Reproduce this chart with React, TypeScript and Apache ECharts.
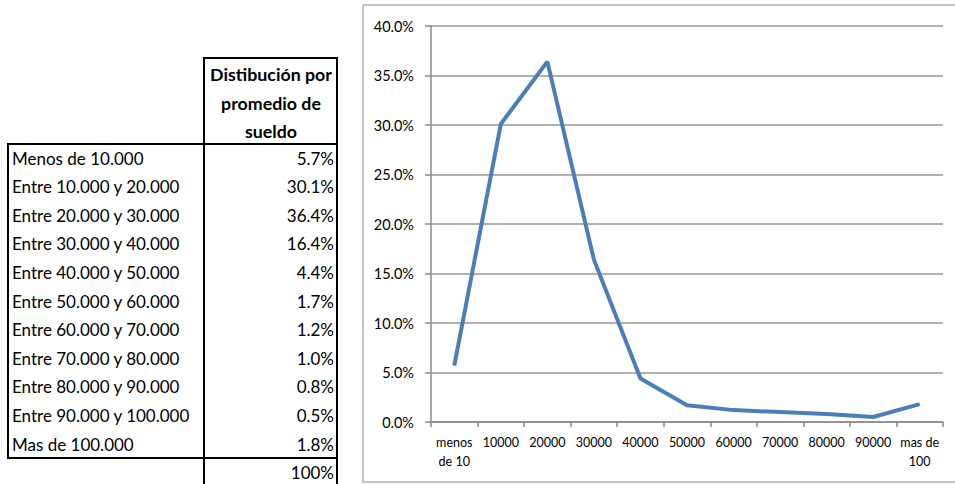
import React, { useEffect, useRef } from "react";
import * as echarts from "echarts";

const rowLabels = [
  "Menos de 10.000",
  "Entre 10.000 y 20.000",
  "Entre 20.000 y 30.000",
  "Entre 30.000 y 40.000",
  "Entre 40.000 y 50.000",
  "Entre 50.000 y 60.000",
  "Entre 60.000 y 70.000",
  "Entre 70.000 y 80.000",
  "Entre 80.000 y 90.000",
  "Entre 90.000 y 100.000",
  "Mas de 100.000",
];
const distribution = [5.7, 30.1, 36.4, 16.4, 4.4, 1.7, 1.2, 1.0, 0.8, 0.5, 1.8];
const totalLabel = "100%";
const headerLines = ["Distibución por", "promedio de", "sueldo"];
const categories = [
  "menos\nde 10",
  "10000",
  "20000",
  "30000",
  "40000",
  "50000",
  "60000",
  "70000",
  "80000",
  "90000",
  "mas de\n100",
];
const yMin = 0;
const yMax = 40;
const yInterval = 5;

const FONT = "Lato, 'Open Sans', sans-serif";

export default function App() {
  const ref = useRef<HTMLDivElement>(null);

  useEffect(() => {
    if (!ref.current) return;
    const chart = echarts.init(ref.current, undefined, { renderer: "svg" });

    const graphics: any[] = [];
    // chart frame
    graphics.push({
      type: "rect",
      shape: { x: 363, y: 5, width: 600, height: 477 },
      style: { fill: "none", stroke: "#b4b4b4", lineWidth: 1.5 },
      z: 0,
    });
    // table header text
    headerLines.forEach((t, i) => {
      graphics.push({
        type: "text",
        x: 271,
        y: 74 + i * 28.6,
        style: {
          text: t,
          fontFamily: FONT,
          fontSize: 17.8,
          fontWeight: "bold",
          fill: "#000",
          align: "center",
          verticalAlign: "middle",
        },
      });
    });
    // rows
    rowLabels.forEach((t, i) => {
      const y = 158 + i * 28.6;
      graphics.push({
        type: "text",
        x: 12,
        y,
        style: { text: t, fontFamily: FONT, fontSize: 17, fill: "#000", align: "left", verticalAlign: "middle" },
      });
      graphics.push({
        type: "text",
        x: 334,
        y,
        style: {
          text: distribution[i].toFixed(1) + "%",
          fontFamily: FONT,
          fontSize: 17,
          fill: "#000",
          align: "right",
          verticalAlign: "middle",
        },
      });
    });
    graphics.push({
      type: "text",
      x: 334,
      y: 158 + 11 * 28.6,
      style: { text: totalLabel, fontFamily: FONT, fontSize: 17, fill: "#000", align: "right", verticalAlign: "middle" },
    });
    // borders
    const border = { stroke: "#000", lineWidth: 2 };
    graphics.push({ type: "rect", shape: { x: 204, y: 58, width: 133, height: 86 }, style: { fill: "none", ...border } });
    graphics.push({ type: "rect", shape: { x: 8, y: 144, width: 329, height: 314 }, style: { fill: "none", ...border } });
    graphics.push({ type: "line", shape: { x1: 204, y1: 144, x2: 204, y2: 490 }, style: border });
    graphics.push({ type: "line", shape: { x1: 337, y1: 458, x2: 337, y2: 490 }, style: border });

    chart.setOption({
      animation: false,
      backgroundColor: "#ffffff",
      textStyle: { fontFamily: FONT },
      grid: { left: 431, right: 12, top: 26, bottom: 62, containLabel: false, outerBoundsMode: "none" },
      xAxis: {
        type: "category",
        data: categories,
        boundaryGap: true,
        axisLine: { show: true, lineStyle: { color: "#8a8a8a", width: 1.5 } },
        axisTick: { show: true, interval: 0, length: 5, lineStyle: { color: "#8a8a8a", width: 1.5 } },
        axisLabel: { interval: 0, color: "#000", fontSize: 12.5, lineHeight: 19, margin: 11, fontFamily: FONT },
        splitLine: { show: false },
      },
      yAxis: {
        type: "value",
        min: yMin,
        max: yMax,
        interval: yInterval,
        axisLine: { show: true, lineStyle: { color: "#8a8a8a", width: 1.5 } },
        axisTick: { show: true, length: 6, lineStyle: { color: "#8a8a8a", width: 1.5 } },
        axisLabel: {
          color: "#000",
          fontSize: 14.5,
          margin: 17,
          fontFamily: FONT,
          formatter: (v: number) => v.toFixed(1) + "%",
        },
        splitLine: { show: true, lineStyle: { color: "#969696", width: 1.5 } },
      },
      series: [
        {
          type: "line",
          data: distribution,
          symbol: "none",
          lineStyle: { color: "#4a7ebb", width: 4 },
          itemStyle: { color: "#4a7ebb" },
        },
      ],
      graphic: graphics,
    });

    return () => chart.dispose();
  }, []);

  return <div ref={ref} style={{ position: "fixed", left: 0, top: 0, width: 955, height: 484 }} />;
}
